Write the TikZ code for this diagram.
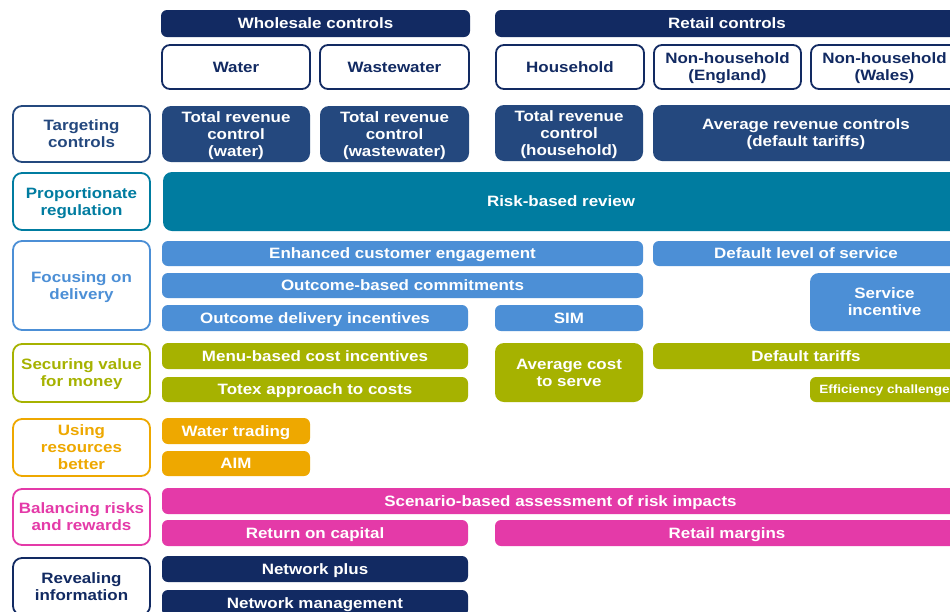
\documentclass[tikz,border=0pt]{standalone}
\usepackage{fontspec}
\newfontfamily\bx{Liberation Sans}[FakeStretch=1.13]
\definecolor{navyD}{RGB}{18,42,98}
\definecolor{navyM}{RGB}{36,72,126}
\definecolor{tealC}{RGB}{0,124,160}
\definecolor{lblue}{RGB}{76,143,214}
\definecolor{oliveC}{RGB}{166,178,0}
\definecolor{orangeC}{RGB}{238,168,0}
\definecolor{pinkC}{RGB}{228,58,168}
\tikzset{
  base/.style={inner sep=0pt, align=center, text depth=0pt, font=\bx\bfseries\fontsize{15}{17}\selectfont},
  bar/.style={base, fill=#1, text=white, rounded corners=6pt},
  bigbox/.style={base, fill=#1, text=white, rounded corners=9pt},
  hdr/.style={base, draw=navyD, line width=1.8pt, fill=white, text=navyD, rounded corners=8pt},
  lab/.style={base, draw=#1, line width=1.8pt, fill=white, text=#1, rounded corners=9pt, minimum width=137pt},
}
\begin{document}
\begin{tikzpicture}[x=1pt,y=-1pt]
\useasboundingbox (0,0) rectangle (950,611);
\clip (0,0) rectangle (950,611);
\fill[white] (0,0) rectangle (950,611);
% header
\node[bar=navyD, minimum width=309pt, minimum height=27pt] (whole) at (315.5,23.5) {Wholesale controls};
\node[bar=navyD, minimum width=464pt, minimum height=27pt] (retail) at (727,23.5) {Retail controls};
\node[hdr, minimum width=148pt, minimum height=44pt] (water) at (236,67) {Water};
\node[hdr, minimum width=149pt, minimum height=44pt] (waste) at (394.5,67) {Wastewater};
\node[hdr, minimum width=148pt, minimum height=44pt] (house) at (570,67) {Household};
\node[hdr, minimum width=147pt, minimum height=44pt] (nheng) at (727.5,67) {Non-household\\(England)};
\node[hdr, minimum width=147pt, minimum height=44pt] (nhwal) at (884.5,67) {Non-household\\(Wales)};
% targeting
\node[lab=navyM, minimum height=56pt] (l1) at (81.5,134) {Targeting\\controls};
\node[bigbox=navyM, minimum width=148pt, minimum height=56pt] (trcw) at (236,134) {Total revenue\\control\\(water)};
\node[bigbox=navyM, minimum width=149pt, minimum height=56pt] (trcww) at (394.5,134) {Total revenue\\control\\(wastewater)};
\node[bigbox=navyM, minimum width=148pt, minimum height=56pt] (trch) at (569,133) {Total revenue\\control\\(household)};
\node[bigbox=navyM, minimum width=306pt, minimum height=56pt] (arc) at (806,133) {Average revenue controls\\(default tariffs)};
% proportionate
\node[lab=tealC, minimum height=57pt] (l2) at (81.5,201.5) {Proportionate\\regulation};
\node[bigbox=tealC, minimum width=796pt, minimum height=59pt] (rbr) at (561,201.5) {Risk-based review};
% focusing
\node[lab=lblue, minimum height=89pt] (l3) at (81.5,285.5) {Focusing on\\delivery};
\node[bar=lblue, minimum width=481pt, minimum height=25pt] (ece) at (402.5,253.5) {Enhanced customer engagement};
\node[bar=lblue, minimum width=306pt, minimum height=25pt] (dls) at (806,253.5) {Default level of service};
\node[bar=lblue, minimum width=481pt, minimum height=25pt] (obc) at (402.5,285.5) {Outcome-based commitments};
\node[bar=lblue, minimum width=306pt, minimum height=26pt] (odi) at (315,318) {Outcome delivery incentives};
\node[bar=lblue, minimum width=148pt, minimum height=26pt] (sim) at (569,318) {SIM};
\node[bigbox=lblue, minimum width=149pt, minimum height=58pt] (si) at (884.5,302) {Service\\incentive};
% securing
\node[lab=oliveC, minimum height=58pt] (l4) at (81.5,373) {Securing value\\for money};
\node[bar=oliveC, minimum width=306pt, minimum height=26pt] (mbci) at (315,356) {Menu-based cost incentives};
\node[bar=oliveC, minimum width=306pt, minimum height=25pt] (totex) at (315,389.5) {Totex approach to costs};
\node[bigbox=oliveC, minimum width=148pt, minimum height=59pt] (acts) at (569,372.5) {Average cost\\to serve};
\node[bar=oliveC, minimum width=306pt, minimum height=26pt] (dt) at (806,356) {Default tariffs};
\node[bar=oliveC, minimum width=149pt, minimum height=25pt, font=\bx\bfseries\fontsize{12}{14}\selectfont] (eff) at (884.5,389.5) {Efficiency challenge};
% using resources
\node[lab=orangeC, minimum height=57pt] (l5) at (81.5,447.5) {Using\\resources\\better};
\node[bar=orangeC, minimum width=148pt, minimum height=26pt] (wt) at (236,431) {Water trading};
\node[bar=orangeC, minimum width=148pt, minimum height=25pt] (aim) at (236,463.5) {AIM};
% balancing
\node[lab=pinkC, minimum height=56pt] (l6) at (81.5,517) {Balancing risks\\and rewards};
\node[bar=pinkC, minimum width=797pt, minimum height=26pt] (sba) at (560.5,501) {Scenario-based assessment of risk impacts};
\node[bar=pinkC, minimum width=306pt, minimum height=26pt] (roc) at (315,533) {Return on capital};
\node[bar=pinkC, minimum width=464pt, minimum height=26pt] (rm) at (727,533) {Retail margins};
% revealing
\node[lab=navyD, minimum height=57pt] (l7) at (81.5,586.5) {Revealing\\information};
\node[bar=navyD, minimum width=306pt, minimum height=26pt] (np) at (315,569) {Network plus};
\node[bar=navyD, minimum width=306pt, minimum height=26pt] (nm) at (315,603) {Network management};
\end{tikzpicture}
\end{document}
